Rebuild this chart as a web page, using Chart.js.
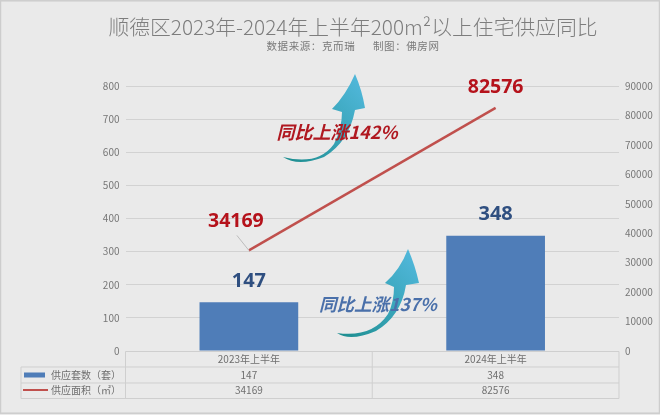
<!DOCTYPE html>
<html><head><meta charset="utf-8">
<style>html,body{margin:0;padding:0;background:#eaeaea}#w{width:660px;height:415px;position:relative}canvas{display:block}</style>
<script src="https://cdn.jsdelivr.net/npm/chart.js@4"></script></head>
<body><div id="w"><canvas id="c" width="660" height="415"></canvas></div>
<script>
const categories = ['2023年上半年', '2024年上半年'];
const supplyUnits = [147, 348];
const supplyArea = [34169, 82576];
const unitsName = '供应套数（套）';
const areaName = '供应面积（㎡）';
const titleText = '顺德区2023年-2024年上半年200m²以上住宅供应同比';
const subtitleText = '数据来源：克而瑞      制图：佛房网';
const upNote = '同比上涨142%';
const lowNote = '同比上涨137%';
const CJK = '"Noto Sans CJK SC","Noto Sans",sans-serif';
const barColor = '#4f7db8', lineColor = '#c0504d', textGrey = '#6f6f6f', rule = '#cfcfcf';

function arrow(ctx, pts, c0, c1, c2) {
  const g = ctx.createLinearGradient(pts.gx0, pts.gy0, pts.gx1, pts.gy1);
  g.addColorStop(0, c0); g.addColorStop(.55, c1); g.addColorStop(1, c2);
  ctx.fillStyle = g;
  ctx.beginPath();
  pts.draw(ctx);
  ctx.closePath();
  ctx.fill();
}
const decor = {
  id: 'decor',
  beforeDraw(chart) {
    const { ctx, width, height } = chart;
    ctx.save();
    ctx.fillStyle = '#eaeaea'; ctx.fillRect(0, 0, width, height);
    ctx.strokeStyle = '#cdcdcd'; ctx.lineWidth = 1.5;
    ctx.strokeRect(0.5, 0.8, width - 1, height - 2.6);
    ctx.textAlign = 'center'; ctx.textBaseline = 'middle';
    ctx.fillStyle = '#7d7d7d'; ctx.font = '300 20.8px ' + CJK;
    ctx.fillText(titleText, 353, 27);
    ctx.fillStyle = '#7a7a7a'; ctx.font = '10.5px ' + CJK;
    ctx.letterSpacing = '0.6px';
    ctx.fillText(subtitleText, 353, 46);
    ctx.letterSpacing = '0px';
    ctx.restore();
  },
  afterDraw(chart) {
    const { ctx, chartArea: a, scales: { x, y, y1 } } = chart;
    ctx.save();
    // data table
    const rows = [a.bottom + .5, 367, 383, 398.5], left = 21, mid = (a.left + a.right) / 2;
    ctx.strokeStyle = rule; ctx.lineWidth = 1;
    ctx.beginPath();
    ctx.moveTo(a.left, rows[0]); ctx.lineTo(a.right, rows[0]);
    ctx.moveTo(left, rows[1]); ctx.lineTo(a.right, rows[1]);
    ctx.moveTo(left, rows[2]); ctx.lineTo(a.right, rows[2]);
    ctx.moveTo(left, rows[3]); ctx.lineTo(a.right, rows[3]);
    ctx.moveTo(left, rows[1]); ctx.lineTo(left, rows[3]);
    [a.left, mid, a.right].forEach(v => { ctx.moveTo(v, rows[0]); ctx.lineTo(v, rows[3]); });
    ctx.stroke();
    ctx.fillStyle = textGrey; ctx.font = '10px ' + CJK; ctx.textAlign = 'center'; ctx.textBaseline = 'middle';
    categories.forEach((c, i) => {
      const cx = x.getPixelForValue(i);
      ctx.fillText(c, cx, 359);
      ctx.fillText(String(supplyUnits[i]), cx, 375);
      ctx.fillText(String(supplyArea[i]), cx, 390.5);
    });
    ctx.textAlign = 'left';
    ctx.fillText(unitsName, 51, 375);
    ctx.fillText(areaName, 51, 390.5);
    ctx.fillStyle = barColor; ctx.fillRect(24, 372.5, 21, 5);
    ctx.strokeStyle = lineColor; ctx.lineWidth = 2;
    ctx.beginPath(); ctx.moveTo(23, 390); ctx.lineTo(48, 390); ctx.stroke();

    // curved arrows
    arrow(ctx, { gx0: 290, gy0: 160, gx1: 365, gy1: 90,
      draw(c) { c.moveTo(283, 157); c.quadraticCurveTo(318, 166, 334, 144); c.quadraticCurveTo(342, 128, 342, 112);
        c.lineTo(332, 109); c.quadraticCurveTo(346, 95, 355, 74); c.quadraticCurveTo(362, 90, 365, 108);
        c.lineTo(355, 110); c.quadraticCurveTo(349, 142, 324, 157); c.quadraticCurveTo(298, 167, 283, 157); }
    }, '#1f8f92', '#3aa6bb', '#4fb6d8');
    arrow(ctx, { gx0: 345, gy0: 338, gx1: 418, gy1: 265,
      draw(c) { c.moveTo(337, 333); c.quadraticCurveTo(372, 338, 388, 314); c.quadraticCurveTo(394, 302, 394, 287);
        c.lineTo(385, 283); c.quadraticCurveTo(400, 270, 408, 249); c.quadraticCurveTo(415, 265, 419, 283);
        c.lineTo(406, 285); c.quadraticCurveTo(401, 316, 376, 331); c.quadraticCurveTo(350, 342, 337, 333); }
    }, '#1f8f92', '#3aa6bb', '#4fb6d8');

    // leader line
    ctx.strokeStyle = '#bdbdbd'; ctx.lineWidth = 1;
    const lx = x.getPixelForValue(0), ly = y1.getPixelForValue(supplyArea[0]);
    ctx.beginPath(); ctx.moveTo(lx - 12, ly - 15); ctx.lineTo(lx, ly); ctx.stroke();

    // value labels
    ctx.textAlign = 'center'; ctx.textBaseline = 'middle';
    ctx.font = 'bold 20px "Open Sans","Noto Sans",sans-serif';
    ctx.fillStyle = '#2f4f80';
    supplyUnits.forEach((v, i) => ctx.fillText(String(v), x.getPixelForValue(i), y.getPixelForValue(v) - 21));
    ctx.fillStyle = '#b5121b';
    ctx.font = 'bold 19.5px "Open Sans","Noto Sans",sans-serif';
    ctx.fillText(String(supplyArea[0]), lx - 13, ly - 29);
    ctx.fillText(String(supplyArea[1]), x.getPixelForValue(1), y1.getPixelForValue(supplyArea[1]) - 20);

    // growth notes
    ctx.font = 'italic bold 18px ' + CJK;
    ctx.fillStyle = '#b01820'; ctx.fillText(upNote, 337, 132);
    ctx.font = 'italic bold 17.5px ' + CJK;
    ctx.fillStyle = '#4a70aa'; ctx.fillText(lowNote, 378, 304);
    ctx.restore();
  }
};
new Chart(document.getElementById('c'), {
  type: 'bar',
  data: {
    labels: categories,
    datasets: [
      { type: 'line', label: areaName, data: supplyArea, yAxisID: 'y1', borderColor: lineColor, backgroundColor: lineColor,
        borderWidth: 2.4, pointRadius: 0, tension: 0, order: 0 },
      { type: 'bar', label: unitsName, data: supplyUnits, yAxisID: 'y', backgroundColor: barColor,
        barPercentage: .4, categoryPercentage: 1, order: 1 }
    ]
  },
  options: {
    responsive: false, animation: false,
    layout: { padding: { top: 86, bottom: 64, left: 0, right: 0 } },
    plugins: { legend: { display: false }, title: { display: false }, tooltip: { enabled: false } },
    scales: {
      x: { offset: true, grid: { display: false, drawTicks: false }, border: { display: false }, ticks: { display: false },
        afterFit(s) { s.height = 0; } },
      y: { position: 'left', min: 0, max: 800,
        ticks: { stepSize: 100, color: '#777', padding: 6, font: { size: 10, family: CJK } },
        grid: { color: '#d2d2d2', drawTicks: false, lineWidth: 1 }, border: { display: false },
        afterFit(s) { s.width = 125.5; } },
      y1: { position: 'right', min: 0, max: 90000,
        ticks: { stepSize: 10000, color: '#777', padding: 6, font: { size: 10, family: CJK }, callback: v => String(v) },
        grid: { display: false, drawTicks: false }, border: { display: false },
        afterFit(s) { s.width = 41; } }
    }
  },
  plugins: [decor]
});
</script></body></html>
